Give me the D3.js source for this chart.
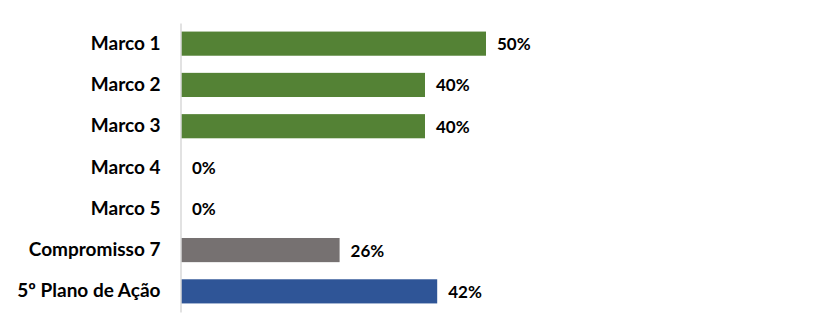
<!DOCTYPE html>
<html>
<head>
<meta charset="utf-8">
<style>
  body { margin: 0; background: #fff; }
  .cat text { font-family: Lato, "Open Sans", sans-serif; font-weight: bold; font-size: 19px; fill: #000; }
  .val { font-family: Lato, "Open Sans", sans-serif; font-weight: bold; font-size: 17px; fill: #000; }
</style>
</head>
<body>
<script src="https://cdn.jsdelivr.net/npm/d3@7"></script>
<script>
  // dados
  var categories = ["Marco 1", "Marco 2", "Marco 3", "Marco 4", "Marco 5", "Compromisso 7", "5º Plano de Ação"];
  var values = [50, 40, 40, 0, 0, 26, 42];
  var barColors = ["#548235", "#548235", "#548235", "#548235", "#548235", "#767171", "#2F5597"];

  var svgWidth = 815, svgHeight = 335;
  var x0 = 181;

  var svg = d3.select("body").append("svg")
      .attr("width", svgWidth).attr("height", svgHeight);

  var x = d3.scaleLinear().domain([0, 50]).range([x0, x0 + 305]);
  var y = d3.scaleBand().domain(categories).range([23, 312])
      .paddingInner(0.415).paddingOuter(0.2075);

  // barras
  svg.selectAll(".bar").data(values).enter().append("rect")
      .attr("class", "bar")
      .attr("x", x(0))
      .attr("y", (d, i) => y(categories[i]))
      .attr("width", d => x(d) - x(0))
      .attr("height", y.bandwidth())
      .attr("fill", (d, i) => barColors[i]);

  // eixo vertical
  var yAxis = d3.axisLeft(y).tickSize(0).tickPadding(20);
  var gy = svg.append("g").attr("class", "cat")
      .attr("transform", "translate(180.5,0)")
      .call(yAxis);
  gy.select(".domain").attr("stroke", "#d9d9d9").attr("stroke-width", 1.5);

  // rótulos
  svg.selectAll(".val").data(values).enter().append("text")
      .attr("class", "val")
      .attr("x", d => x(d) + 11)
      .attr("y", (d, i) => y(categories[i]) + y.bandwidth() / 2)
      .attr("dy", "0.38em")
      .text(d => d + "%");
</script>
</body>
</html>
